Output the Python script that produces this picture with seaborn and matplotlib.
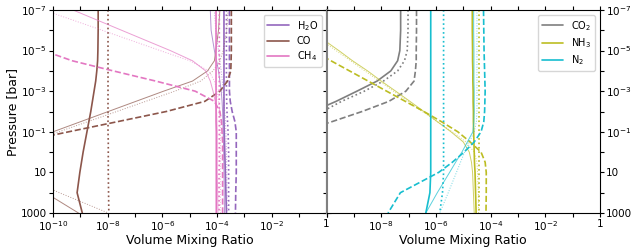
import numpy as np
import pandas as pd
import matplotlib
matplotlib.use('Agg')
import matplotlib.pyplot as plt
import seaborn as sns

# pressure grid (log10 bar)
log_p = [-7, -6, -5, -4.5, -4, -3.5, -3, -2.5, -2, -1.5, -1, -0.5, 0, 0.5, 1, 2, 3]

# log10 volume mixing ratios
h2o_solid = [-3.75, -3.75, -3.75, -3.75, -3.75, -3.75, -3.75, -3.75, -3.75, -3.75,
             -3.74, -3.73, -3.72, -3.71, -3.70, -3.68, -3.66]
h2o_dashed = [-3.55, -3.55, -3.55, -3.55, -3.55, -3.55, -3.55, -3.52, -3.45, -3.35,
              -3.30, -3.30, -3.30, -3.30, -3.30, -3.32, -3.33]
h2o_dotted = [-3.66, -3.66, -3.66, -3.66, -3.66, -3.66, -3.66, -3.65, -3.64, -3.62,
              -3.60, -3.59, -3.58, -3.58, -3.58, -3.58, -3.58]
h2o_thin = [-4.25, -4.22, -4.10, -4.02, -3.95, -3.90, -3.85, -3.82, -3.80, -3.79,
            -3.78, -3.77, -3.76, -3.755, -3.75, -3.74, -3.73]
h2o_thin_dotted = [-4.10, -4.05, -3.95, -3.90, -3.85, -3.81, -3.78, -3.75, -3.72, -3.70,
                   -3.68, -3.67, -3.66, -3.655, -3.65, -3.64, -3.63]

co_solid = [-8.35, -8.35, -8.36, -8.37, -8.40, -8.44, -8.50, -8.56, -8.62, -8.69,
            -8.76, -8.83, -8.90, -8.96, -9.02, -9.12, -8.93]
co_dashed = [-3.48, -3.48, -3.48, -3.49, -3.50, -3.62, -3.90, -4.45, -5.86, -7.64,
             -9.43, -11.2, -13.0, -14.8, -16.0, -18.0, -20.0]
co_dotted = [-7.99, -7.99, -7.99, -7.99, -7.99, -7.99, -7.99, -7.99, -7.99, -7.99,
             -7.99, -7.98, -7.98, -7.98, -7.98, -7.97, -7.96]
co_thin = [-3.90, -3.95, -4.05, -4.10, -4.35, -4.90, -5.96, -6.97, -7.98, -8.99,
           -10.0, -11.0, -11.5, -11.8, -11.5, -10.28, -9.07]
co_thin_dotted = [-3.60, -3.65, -3.78, -3.90, -4.15, -4.60, -5.55, -6.61, -7.67, -8.73,
                  -9.79, -11.0, -12.0, -12.5, -11.5, -9.77, -7.98]

ch4_solid = [-4.04, -4.04, -4.04, -4.04, -4.04, -4.04, -4.04, -4.04, -4.04, -4.04,
             -4.03, -4.03, -4.03, -4.03, -4.03, -4.03, -4.03]
ch4_dashed = [-13.5, -11.9, -10.35, -9.30, -7.80, -6.25, -4.80, -4.10, -3.90, -3.84,
              -3.82, -3.80, -3.80, -3.80, -3.80, -3.80, -3.80]
ch4_dotted = [-3.92, -3.92, -3.92, -3.92, -3.92, -3.92, -3.92, -3.92, -3.92, -3.92,
              -3.92, -3.92, -3.92, -3.92, -3.93, -3.93, -3.93]
ch4_thin = [-9.27, -7.49, -5.71, -4.90, -4.42, -4.25, -4.15, -4.07, -4.02, -4.01,
            -4.00, -4.00, -4.00, -4.00, -4.00, -3.98, -3.97]
ch4_thin_dotted = [-10.34, -8.20, -6.08, -5.00, -4.30, -4.10, -4.00, -3.95, -3.90, -3.89,
                   -3.88, -3.88, -3.88, -3.88, -3.88, -3.88, -3.88]

co2_solid = [-7.29, -7.29, -7.32, -7.40, -7.65, -8.15, -8.89, -9.65, -10.5, -11.2,
             -12.0, -12.5, -13.0, -13.5, -14.0, -15.0, -16.0]
co2_dashed = [-6.71, -6.71, -6.72, -6.72, -6.75, -6.80, -7.10, -7.72, -8.70, -9.80,
              -11.0, -12.0, -12.5, -13.0, -13.5, -14.5, -15.5]
co2_dotted = [-7.02, -7.02, -7.05, -7.15, -7.40, -7.92, -8.62, -9.45, -10.15, -11.0,
              -11.5, -12.0, -13.0, -13.5, -14.0, -15.0, -16.0]

nh3_solid = [-4.67, -4.67, -4.66, -4.66, -4.65, -4.65, -4.64, -4.64, -4.63, -4.63,
             -4.62, -4.61, -4.60, -4.59, -4.57, -4.55, -4.53]
nh3_dashed = [-13.24, -11.88, -10.52, -9.84, -9.16, -8.48, -7.80, -7.12, -6.44, -5.80,
              -5.20, -4.75, -4.35, -4.20, -4.16, -4.16, -4.17]
nh3_dotted = [-4.43, -4.43, -4.43, -4.43, -4.43, -4.43, -4.43, -4.43, -4.43, -4.43,
              -4.43, -4.43, -4.43, -4.43, -4.43, -4.43, -4.43]
nh3_thin = [-11.6, -10.6, -9.55, -9.05, -8.50, -8.00, -7.47, -6.95, -6.44, -5.95,
            -5.45, -5.00, -4.78, -4.70, -4.66, -4.63, -4.60]
nh3_thin_dotted = [-11.7, -10.7, -9.65, -9.12, -8.60, -8.07, -7.55, -7.02, -6.50, -5.95,
                   -5.40, -4.90, -4.60, -4.50, -4.48, -4.45, -4.44]

n2_solid = [-6.19, -6.19, -6.19, -6.19, -6.19, -6.19, -6.19, -6.19, -6.19, -6.19,
            -6.19, -6.19, -6.19, -6.19, -6.19, -6.22, -6.37]
n2_dashed = [-4.26, -4.25, -4.24, -4.23, -4.22, -4.21, -4.20, -4.21, -4.22, -4.25,
             -4.35, -4.60, -4.97, -5.40, -5.90, -7.30, -7.75]
n2_dotted = [-5.72, -5.72, -5.72, -5.72, -5.72, -5.72, -5.72, -5.72, -5.72, -5.72,
             -5.72, -5.72, -5.72, -5.72, -5.72, -5.76, -5.86]
n2_thin = [-4.62, -4.62, -4.61, -4.61, -4.61, -4.61, -4.60, -4.60, -4.60, -4.61,
           -4.65, -4.85, -5.05, -5.28, -5.50, -5.95, -6.37]
n2_thin_dotted = [-4.50, -4.50, -4.50, -4.50, -4.50, -4.50, -4.50, -4.50, -4.50, -4.52,
                  -4.60, -4.78, -4.95, -5.10, -5.25, -5.55, -5.86]

left_species = [
    ('H$_2$O', 'tab:purple', [h2o_solid, h2o_dashed, h2o_dotted, h2o_thin, h2o_thin_dotted]),
    ('CO', 'tab:brown', [co_solid, co_dashed, co_dotted, co_thin, co_thin_dotted]),
    ('CH$_4$', 'tab:pink', [ch4_solid, ch4_dashed, ch4_dotted, ch4_thin, ch4_thin_dotted]),
]
right_species = [
    ('CO$_2$', 'tab:gray', [co2_solid, co2_dashed, co2_dotted]),
    ('NH$_3$', 'tab:olive', [nh3_solid, nh3_dashed, nh3_dotted, nh3_thin, nh3_thin_dotted]),
    ('N$_2$', 'tab:cyan', [n2_solid, n2_dashed, n2_dotted, n2_thin, n2_thin_dotted]),
]
line_styles = [
    dict(ls='-', lw=1.2, alpha=1.0),
    dict(ls='--', lw=1.2, alpha=1.0),
    dict(ls=':', lw=1.2, alpha=1.0),
    dict(ls='-', lw=0.7, alpha=0.7),
    dict(ls=':', lw=0.7, alpha=0.6),
]

sns.set_style('ticks', {'axes.edgecolor': 'black', 'text.color': 'black',
                        'axes.labelcolor': 'black', 'xtick.color': 'black',
                        'ytick.color': 'black'})
plt.rcParams['font.family'] = ['DejaVu Sans']

fig, axs = plt.subplots(ncols=2, figsize=(6.39, 2.5), dpi=100, sharey=True)
fig.subplots_adjust(left=0.083, right=0.939, top=0.96, bottom=0.148, wspace=0)

pressure = 10.0 ** np.array(log_p)
for ax, species in zip(axs, [left_species, right_species]):
    for name, color, profiles in species:
        for k, (prof, style) in enumerate(zip(profiles, line_styles)):
            frame = pd.DataFrame({'Pressure': pressure, 'VMR': 10.0 ** np.array(prof)})
            sns.lineplot(data=frame, x='VMR', y='Pressure', sort=False, estimator=None,
                         color=color, ax=ax, label=name if k == 0 else None, **style)
    ax.set_xscale('log')
    ax.set_yscale('log')
    ax.set_xlim(1e-10, 1)
    ax.set_ylim(1000, 1e-7)
    ax.set_xlabel('Volume Mixing Ratio', fontsize=9, labelpad=1)
    ax.legend(loc='upper right', fontsize=7, frameon=True, handlelength=2.2,
              labelspacing=0.35, borderpad=0.4, handletextpad=0.8)

x_exps = list(range(-10, 1))
x_labels = ['1' if e == 0 else ('$10^{%d}$' % e if e % 2 == 0 else '') for e in x_exps]
y_exps = list(range(-7, 4))
y_names = {-7: '$10^{-7}$', -5: '$10^{-5}$', -3: '$10^{-3}$', -1: '$10^{-1}$', 1: '10', 3: '1000'}
y_labels = [y_names.get(e, '') for e in y_exps]

for i, ax in enumerate(axs):
    ax.set_xticks([10.0 ** e for e in x_exps])
    labels = list(x_labels)
    if i == 1:
        labels[0] = ''
    ax.set_xticklabels(labels)
    ax.set_yticks([10.0 ** e for e in y_exps])
    ax.set_yticklabels(y_labels)
    ax.minorticks_off()
    ax.tick_params(labelsize=7.5, top=True, right=True, length=3, pad=1.5)

axs[0].set_ylabel('Pressure [bar]', fontsize=9, labelpad=1)
axs[1].set_ylabel('')
axs[1].tick_params(left=True, labelleft=False, right=True, labelright=True)
axs[0].spines['right'].set_color('0.5')
axs[0].spines['right'].set_linewidth(1.5)
axs[1].spines['left'].set_color('0.5')
axs[1].spines['left'].set_linewidth(1.5)

fig.savefig('out.png', dpi=100)
